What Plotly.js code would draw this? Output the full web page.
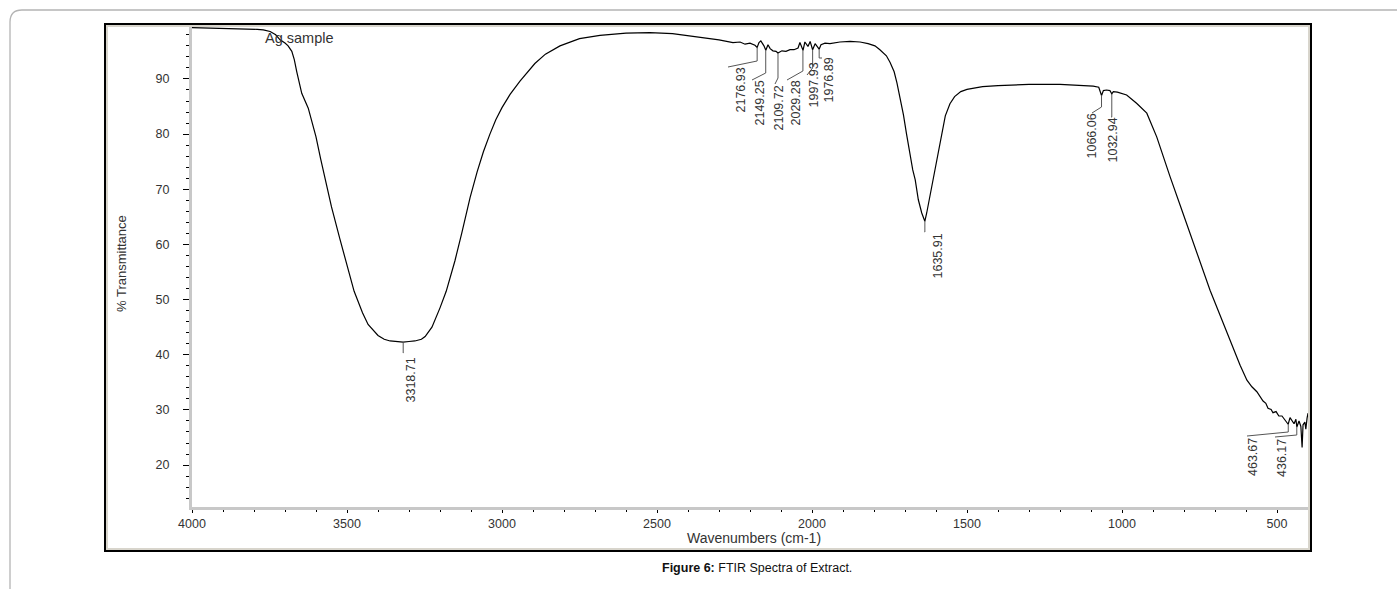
<!DOCTYPE html>
<html>
<head>
<meta charset="utf-8">
<script src="https://cdn.plot.ly/plotly-3.0.1.min.js"></script>
<style>
html,body{margin:0;padding:0;background:#ffffff;}
#chart{width:1397px;height:589px;}
</style>
</head>
<body>
<div id="chart"></div>
<script>
// ---------------- DATA ----------------
const wavenumbers = [4000,3960,3920,3880,3850,3830,3810,3790,3770,3748,3730,3716,3700,3690,3678,3670,3662,3646,3625,3609,3600,3585,3571,3550,3523,3500,3477,3450,3432,3400,3380,3361,3340,3319,3300,3281,3260,3248,3226,3210,3200,3180,3152,3130,3103,3080,3060,3039,3020,3000,2974,2942,2920,2894,2860,2813,2750,2684,2600,2523,2450,2361,2300,2255,2232,2216,2200,2184,2177,2171,2165,2155,2149,2142,2135,2126,2116,2110,2097,2084,2071,2058,2045,2039,2032,2029,2023,2013,2006,1998,1990,1984,1977,1971,1958,1942,1910,1877,1845,1819,1797,1781,1760,1748,1735,1726,1715,1705,1695,1685,1675,1667,1657,1646,1636,1630,1622,1614,1609,1600,1590,1580,1570,1555,1540,1520,1500,1450,1400,1300,1200,1093,1075,1066,1060,1050,1039,1033,1028,1015,1001,985,953,920,888,867,845,813,781,748,716,684,652,619,597,581,565,555,545,536,529,519,513,503,494,484,474,464,458,452,445,439,436,429,423,419,416,410,407,403,400];
const transmittance = [99.3,99.25,99.3,99.15,99.2,99.1,99.15,99.0,98.9,98.6,98.0,97.1,96.5,96.0,95.0,93.5,91.3,87.4,84.7,81.1,79.5,75.5,71.8,66.8,61.0,56.0,51.5,47.6,45.5,43.5,42.8,42.5,42.4,42.3,42.4,42.5,42.8,43.3,45.0,47.0,48.5,51.5,57.0,62.0,68.5,73.2,76.8,80.0,82.6,84.8,87.2,89.6,91.0,92.8,94.5,96.0,97.3,97.9,98.3,98.4,98.2,97.6,97.1,96.6,96.7,96.3,96.5,96.1,95.7,96.6,96.9,96.0,95.2,96.2,95.5,95.1,95.0,94.7,95.1,95.0,95.3,95.3,95.6,96.6,95.8,95.2,96.7,95.9,96.8,95.3,96.4,96.0,95.4,96.2,96.5,96.4,96.7,96.8,96.7,96.4,96.0,95.3,94.2,93.0,91.3,89.3,86.5,83.5,80.0,76.5,73.5,71.7,68.1,65.7,64.2,65.7,68.1,70.5,71.7,74.5,78.0,81.0,83.3,85.5,86.8,87.7,88.1,88.6,88.8,89.0,89.0,88.7,88.5,87.0,87.9,88.0,87.9,87.3,87.7,87.6,87.4,87.1,85.6,83.8,79.5,75.9,72.3,67.2,62.0,56.8,51.7,47.2,42.7,38.1,35.4,34.2,33.3,32.4,31.6,31.2,30.3,30.1,29.5,29.7,28.9,28.9,28.2,27.4,28.6,28.0,27.5,28.3,26.9,28.0,27.0,23.2,27.3,27.8,26.5,28.5,29.4];
const peakWavenumbers = [3318.71,2176.93,2149.25,2109.72,2029.28,1997.93,1976.89,1635.91,1066.06,1032.94,463.67,436.17];
const peakLabels = ["3318.71","2176.93","2149.25","2109.72","2029.28","1997.93","1976.89","1635.91","1066.06","1032.94","463.67","436.17"];
const xTickValues = [4000,3500,3000,2500,2000,1500,1000,500];
const xTickLabels = ["4000","3500","3000","2500","2000","1500","1000","500"];
const yTickValues = [20,30,40,50,60,70,80,90];
const yTickLabels = ["20","30","40","50","60","70","80","90"];
const seriesName = "Ag sample";
const xTitle = "Wavenumbers (cm-1)";
const yTitle = "% Transmittance";
const captionBold = "Figure 6:";
const captionText = " FTIR Spectra of Extract.";

// ---------------- LAYOUT GEOMETRY ----------------
const W = 1397, H = 589;
const PL = 192, PR = 1308, PT = 26, PB = 507;   // plot area in pixels
const X_RANGE = [4000, 400];
const Y_RANGE = [12.4, 99.6];
const pw = PR - PL, ph = PB - PT;
const X = px => (px - PL) / pw;            // pixel -> paper
const Y = py => (PB - py) / ph;
const px2wn = px => X_RANGE[0] + (px - PL) / pw * (X_RANGE[1] - X_RANGE[0]);
const py2T = py => Y_RANGE[1] - (py - PT) / ph * (Y_RANGE[1] - Y_RANGE[0]);

function interpT(w) {
  for (let i = 0; i < wavenumbers.length - 1; i++) {
    const a = wavenumbers[i], b = wavenumbers[i + 1];
    if (w <= a && w >= b) {
      const t = (a - w) / (a - b);
      return transmittance[i] + t * (transmittance[i + 1] - transmittance[i]);
    }
  }
  return transmittance[transmittance.length - 1];
}

// label placement (pixels): [vertical end y, leader end x, leader end y, text centre x, text top y]
const labelPlacement = [
  [353, 403, 353, 410, 357],
  [61, 728, 67, 740, 67],
  [73, 752, 80, 759, 80],
  [78, 775, 84, 778, 85],
  [71, 787, 80, 795, 80],
  [68, 807, 75, 813, 62],
  [58, 822, 58, 828, 57],
  [232, 924.5, 232, 937, 233],
  [107, 1092, 113, 1091, 113],
  [117, 1111, 117, 1112, 117],
  [432, 1247, 436, 1253, 437],
  [435, 1275, 437, 1282, 438]
];

const FONT = "Liberation Sans, Arial, sans-serif";
const shapes = [];
const annotations = [];

// outer rounded frame
shapes.push({type:'path', xref:'paper', yref:'paper',
  path:`M ${X(10)},${Y(620)} L ${X(10)},${Y(22)} Q ${X(10)},${Y(10)} ${X(22)},${Y(10)} L ${X(1420)},${Y(10)}`,
  line:{color:'#b4b4b4', width:1.3}});
// chart box
shapes.push({type:'rect', xref:'paper', yref:'paper', x0:X(107), x1:X(1309), y0:Y(549), y1:Y(26),
  line:{color:'#d8d5cc', width:2}});
shapes.push({type:'rect', xref:'paper', yref:'paper', x0:X(105), x1:X(1311), y0:Y(551), y1:Y(24),
  line:{color:'#000000', width:2}});

// peak leaders and labels
peakWavenumbers.forEach((w, i) => {
  const p = labelPlacement[i];
  const yPeak = interpT(w);
  const yBend = py2T(p[0]);
  shapes.push({type:'path', xref:'x', yref:'y',
    path:`M ${w},${yPeak} L ${w},${yBend} L ${px2wn(p[1])},${py2T(p[2])}`,
    line:{color:'#555555', width:1}});
  annotations.push({xref:'x', yref:'y', x:px2wn(p[3]), y:py2T(p[4]),
    xanchor:'center', yanchor:'top', textangle:-90, showarrow:false,
    text:peakLabels[i], font:{family:FONT, size:12.5, color:'#333333'}, borderpad:0});
});

// series name
annotations.push({xref:'paper', yref:'paper', x:X(264), y:Y(38), xanchor:'left', yanchor:'middle',
  showarrow:false, text:seriesName, font:{family:FONT, size:14.5, color:'#333333'}, borderpad:0});
// axis titles
annotations.push({xref:'paper', yref:'paper', x:X(754), y:Y(538), xanchor:'center', yanchor:'middle',
  showarrow:false, text:xTitle, font:{family:FONT, size:14, color:'#333333'}});
annotations.push({xref:'paper', yref:'paper', x:X(121), y:Y(264), xanchor:'center', yanchor:'middle',
  textangle:-90, showarrow:false, text:yTitle, font:{family:FONT, size:13, color:'#333333'}});
// caption
annotations.push({xref:'paper', yref:'paper', x:X(757), y:Y(568), xanchor:'center', yanchor:'middle',
  showarrow:false, text:`<b>${captionBold}</b>${captionText}`, font:{family:FONT, size:12.5, color:'#111111'}});

const trace = {
  x: wavenumbers, y: transmittance, type:'scatter', mode:'lines', name:seriesName,
  line:{color:'#000000', width:1.2}, hoverinfo:'skip'
};

const layout = {
  width: W, height: H,
  margin:{l:PL, r:W-PR, t:PT, b:H-PB, pad:0},
  paper_bgcolor:'#ffffff', plot_bgcolor:'#ffffff',
  showlegend:false,
  xaxis:{range:X_RANGE, tickvals:xTickValues, ticktext:xTickLabels, showgrid:false, zeroline:false,
    showline:true, linecolor:'#c8c8c8', linewidth:3, ticks:'outside', ticklen:3, tickwidth:1, tickcolor:'#000',
    minor:{dtick:100, ticks:'outside', ticklen:2, tickcolor:'#000', tickwidth:1, showgrid:false},
    tickfont:{family:FONT, size:12.5, color:'#333333'}, fixedrange:true},
  yaxis:{range:Y_RANGE, tickvals:yTickValues, ticktext:yTickLabels, showgrid:false, zeroline:false,
    showline:true, linecolor:'#c8c8c8', linewidth:3, ticks:'outside', ticklen:6, tickwidth:1, tickcolor:'#000',
    minor:{dtick:2, ticks:'outside', ticklen:3, tickcolor:'#000', tickwidth:1, showgrid:false},
    ticklabelstandoff:11,
    tickfont:{family:FONT, size:12.5, color:'#333333'}, fixedrange:true},
  shapes: shapes,
  annotations: annotations
};

Plotly.newPlot('chart', [trace], layout, {staticPlot:true, displayModeBar:false});
</script>
</body>
</html>
